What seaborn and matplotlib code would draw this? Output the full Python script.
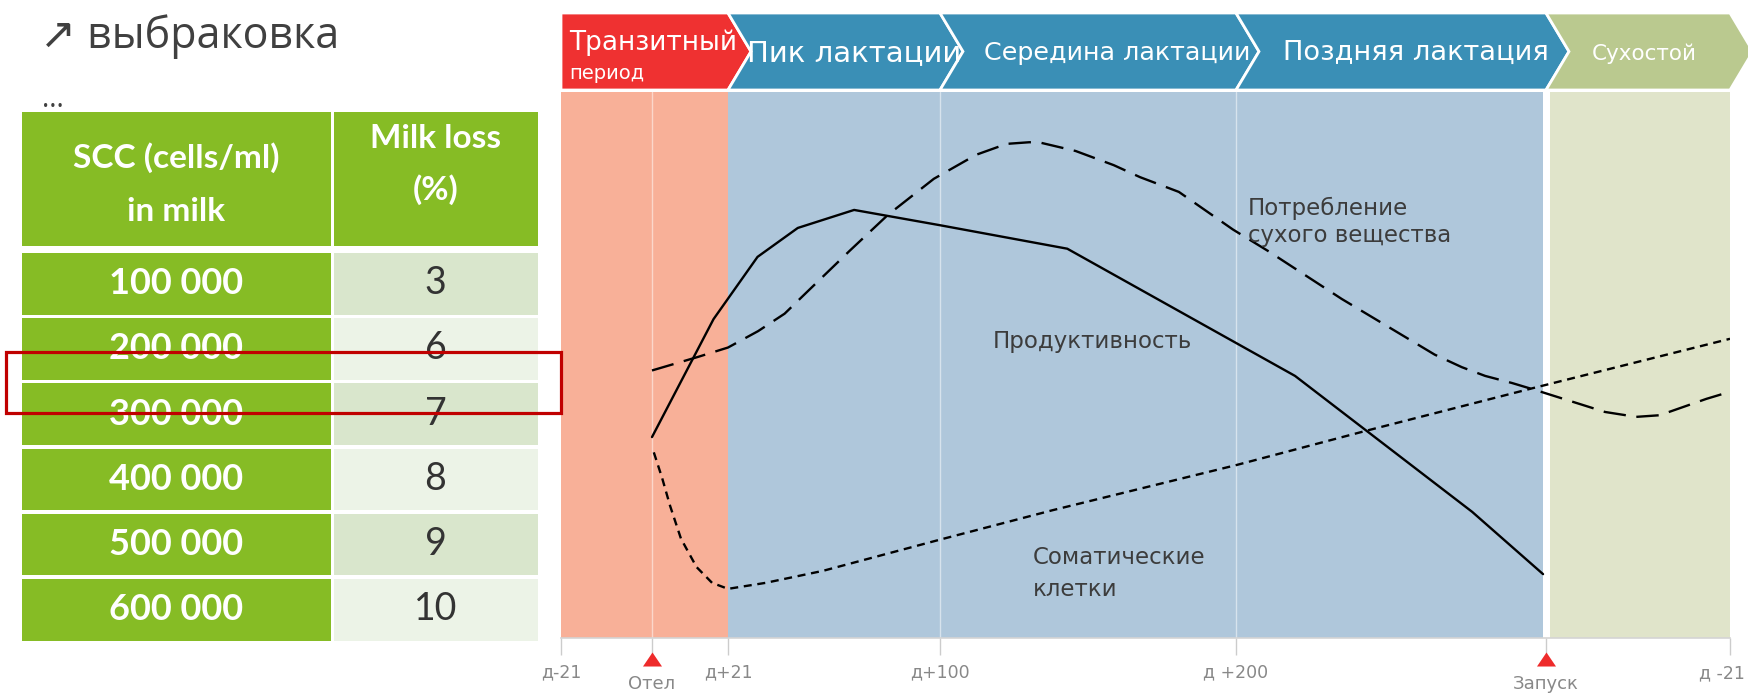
import numpy as np
import pandas as pd
import matplotlib
matplotlib.use("Agg")
import matplotlib.pyplot as plt
import matplotlib.transforms as mtransforms
from matplotlib.patches import Polygon, Rectangle
import seaborn as sns

W, H = 1748, 693

# ---------------- data ----------------
title_text = "↗ выбраковка"
scc_header = ["SCC (cells/ml)", "in milk"]
loss_header = ["Milk loss", "(%)"]
scc_values = ["100 000", "200 000", "300 000", "400 000", "500 000", "600 000"]
milk_loss = [3, 6, 7, 8, 9, 10]

phase_names = ["Транзитный", "Пик лактации", "Середина лактации", "Поздняя лактация", "Сухостой"]
phase_sub = ["период", "", "", "", ""]
phase_start = [-21, 21, 100, 200, 305]
phase_end = [21, 100, 200, 305, 344]

tick_days = [-21, 0, 21, 100, 200, 305, 344]
tick_labels = ["д-21", "", "д+21", "д+100", "д +200", "", "д -21"]
event_names = ["Отел", "Запуск"]
event_days = [0, 305]

prod_days = [0, 17, 32, 47, 68, 100, 143, 220, 280, 304]
prod_vals = [36.8, 58.4, 69.8, 75.1, 78.4, 75.6, 71.3, 48.0, 23.1, 11.7]

dmi_days = [0, 12.8, 21, 32.2, 42.1, 50.7, 66.3, 80.6, 97.7, 112.2, 122.5, 130.2,
            134.1, 145.8, 158.7, 167.6, 180.7, 199, 210.8, 235.8, 267.3, 276.5,
            284.4, 293.5, 301.5, 317.5, 324.1, 329.1, 339, 344]
dmi_vals = [49.0, 51.5, 53.2, 56.2, 59.4, 63.5, 70.9, 77.5, 84.1, 88.5, 90.5, 90.8,
            90.7, 89.2, 86.6, 84.4, 81.7, 74.8, 70.9, 62.1, 51.9, 49.6,
            48.0, 46.7, 45.4, 41.4, 40.5, 40.8, 43.8, 45.1]

scc_days = [0.5, 2.8, 5.0, 8.0, 12.3, 16.6, 21, 35, 56.4, 99.1, 138, 200.3, 243.7, 300.1, 344]
scc_vals = [34.0, 29.3, 24.2, 18.2, 13.0, 10.1, 9.0, 10.1, 12.3, 17.9, 23.4, 31.7, 37.9, 45.7, 54.8]

series_labels = ["Потребление", "сухого вещества", "Продуктивность", "Соматические", "клетки"]

# ---------------- non-uniform timeline scale ----------------
TL_DAYS = np.array([-21, 0, 21, 100, 200, 305, 344], float)
TL_POS = np.array([0, 91, 167, 379, 675, 985, 1169], float)
_s0 = (TL_POS[1] - TL_POS[0]) / (TL_DAYS[1] - TL_DAYS[0])
_s1 = (TL_POS[-1] - TL_POS[-2]) / (TL_DAYS[-1] - TL_DAYS[-2])


def fwd(x):
    x = np.asarray(x, float)
    y = np.interp(x, TL_DAYS, TL_POS)
    y = np.where(x < TL_DAYS[0], TL_POS[0] + (x - TL_DAYS[0]) * _s0, y)
    y = np.where(x > TL_DAYS[-1], TL_POS[-1] + (x - TL_DAYS[-1]) * _s1, y)
    return y


def inv(p):
    p = np.asarray(p, float)
    x = np.interp(p, TL_POS, TL_DAYS)
    x = np.where(p < TL_POS[0], TL_DAYS[0] + (p - TL_POS[0]) / _s0, x)
    x = np.where(p > TL_POS[-1], TL_DAYS[-1] + (p - TL_POS[-1]) / _s1, x)
    return x


# ---------------- style ----------------
sns.set_style("white")
plt.rcParams["font.family"] = ["DejaVu Sans"]

fig = plt.figure(figsize=(W / 100, H / 100), dpi=100)
fig.patch.set_facecolor("white")


def fax(x0, y0, x1, y1):
    return [x0 / W, 1 - y1 / H, (x1 - x0) / W, (y1 - y0) / H]


# background axes in pixel coordinates (table, title)
axb = fig.add_axes([0, 0, 1, 1], zorder=0)
axb.set_xlim(0, W)
axb.set_ylim(H, 0)
axb.axis("off")

axb.text(40, 48, title_text, fontsize=31, color="#404040",
         family=["Open Sans", "DejaVu Sans"], va="baseline", ha="left")
axb.text(42, 107, "...", fontsize=20, color="#404040",
         family=["Open Sans", "DejaVu Sans"], va="baseline", ha="left")

GREEN = "#86bc25"
c1x0, c1x1, c2x0, c2x1 = 22, 330.5, 333.5, 537.5
axb.add_patch(Rectangle((c1x0, 111.8), c1x1 - c1x0, 245.7 - 111.8, color=GREEN, lw=0))
axb.add_patch(Rectangle((c2x0, 111.8), c2x1 - c2x0, 245.7 - 111.8, color=GREEN, lw=0))
hdr = dict(fontsize=24, color="white", family="Lato", fontweight="bold",
           ha="center", va="baseline")
axb.text((c1x0 + c1x1) / 2, 168, scc_header[0], **hdr)
axb.text((c1x0 + c1x1) / 2, 221, scc_header[1], **hdr)
axb.text((c2x0 + c2x1) / 2, 148, loss_header[0], **hdr)
axb.text((c2x0 + c2x1) / 2, 200, loss_header[1], **hdr)

light = ["#d9e6cc", "#ecf3e7"]
for i, (sv, ml) in enumerate(zip(scc_values, milk_loss)):
    top = 253 + i * 65.2
    h = 61.5
    axb.add_patch(Rectangle((c1x0, top), c1x1 - c1x0, h, color=GREEN, lw=0))
    axb.add_patch(Rectangle((c2x0, top), c2x1 - c2x0, h, color=light[i % 2], lw=0))
    yc = top + h / 2
    axb.text((c1x0 + c1x1) / 2, yc + 10.5, sv, fontsize=26, color="white",
             family="Lato", fontweight="bold", ha="center", va="baseline")
    axb.text((c2x0 + c2x1) / 2, yc + 10.5, str(ml), fontsize=27, color="#333333",
             family="Lato", ha="center", va="baseline")

# ---------------- main chart ----------------
ax = fig.add_axes(fax(561, 92, 1730, 638), zorder=2)
ax.set_xscale("function", functions=(fwd, inv))
ax.set_xlim(-21, 344)
ax.set_ylim(0, 100)
ax.set_facecolor("none")

ax.axvspan(-21, 21, color="#f8b098", lw=0, zorder=0)
ax.axvspan(21, 304, color="#afc7db", lw=0, zorder=0)
ax.axvspan(305.8, 344, color="#e0e4ca", lw=0, zorder=0)
for d in [0, 100, 200]:
    ax.axvline(d, color="white", alpha=0.5, lw=1, zorder=1)

df = pd.concat([
    pd.DataFrame({"day": prod_days, "value": prod_vals, "series": "prod"}),
    pd.DataFrame({"day": dmi_days, "value": dmi_vals, "series": "dmi"}),
    pd.DataFrame({"day": scc_days, "value": scc_vals, "series": "scc"}),
], ignore_index=True)
sns.lineplot(data=df, x="day", y="value", style="series",
             dashes={"prod": "", "dmi": (9.5, 4.5), "scc": (3.4, 2.4)},
             color="black", lw=1.7, estimator=None, legend=False, ax=ax, zorder=3)

lab_kw = dict(fontsize=16.5, color="#3c3c3c", ha="left", va="baseline", zorder=4)
ax.text(204, 77.4, series_labels[0], **lab_kw)
ax.text(204, 72.5, series_labels[1], **lab_kw)
ax.text(117.7, 53.2, series_labels[2], **lab_kw)
ax.text(131.4, 13.6, series_labels[3], **lab_kw)
ax.text(131.4, 7.7, series_labels[4], **lab_kw)

for s in ["top", "left", "right"]:
    ax.spines[s].set_visible(False)
ax.spines["bottom"].set_color("#d4d4d4")
ax.spines["bottom"].set_linewidth(1.2)
ax.set_yticks([])
ax.set_xticks(tick_days)
# the last label is placed separately so that it stays inside the figure
ax.set_xticklabels(tick_labels[:-1] + [""])
ax.tick_params(axis="x", direction="out", length=12.5, width=1, color="#cccccc",
               pad=6, labelsize=12.5, labelcolor="#888888", bottom=True)
ax.xaxis.set_minor_locator(matplotlib.ticker.NullLocator())
ax.set_xlabel("")
ax.set_ylabel("")

blend = mtransforms.blended_transform_factory(ax.transData, ax.transAxes)
ax.annotate(tick_labels[-1], xy=(tick_days[-1], 0), xycoords=blend,
            xytext=(11, -25.5), textcoords="offset points", ha="right", va="center",
            fontsize=12.5, color="#888888", annotation_clip=False)

tri = [(-1, -0.737), (1, -0.737), (0, 0.737)]
ax.scatter(event_days, [-0.0385] * len(event_days), marker=tri, s=188,
           color="#ee2b2b", transform=blend, clip_on=False, zorder=6, lw=0)
for nm, d in zip(event_names, event_days):
    ax.text(d, -0.084, nm, transform=blend, ha="center", va="center",
            fontsize=13, color="#888888", clip_on=False)

# ---------------- header chevrons ----------------
axh = fig.add_axes(fax(561, 13, 1748, 90), zorder=3)
axh.set_xlim(0, 1187)
axh.set_ylim(0, 1)
axh.axis("off")
head_cols = ["#ef3131", "#3a8fb6", "#3a8fb6", "#3a8fb6", "#bac98f"]
depth = 23
for i, (s_d, e_d) in enumerate(zip(phase_start, phase_end)):
    s, e = float(fwd(s_d)), float(fwd(e_d))
    if i == 0:
        pts = [(s, 1), (e, 1), (e + depth, 0.5), (e, 0), (s, 0)]
    else:
        pts = [(s, 1), (e, 1), (e + depth, 0.5), (e, 0), (s, 0), (s + depth, 0.5)]
    axh.add_patch(Polygon(pts, closed=True, facecolor=head_cols[i], edgecolor="white",
                          lw=2, joinstyle="miter", clip_on=True))

hk = dict(color="white", va="center", zorder=5)
axh.text(8, 0.61, phase_names[0], fontsize=19, ha="left", **hk)
axh.text(8, 0.22, phase_sub[0], fontsize=14, ha="left", **hk)
axh.text(293, 0.48, phase_names[1], fontsize=21, ha="center", **hk)
axh.text(556, 0.48, phase_names[2], fontsize=18.3, ha="center", **hk)
axh.text(855, 0.48, phase_names[3], fontsize=19.6, ha="center", **hk)
axh.text(1083, 0.47, phase_names[4], fontsize=15.5, ha="center", **hk)

# ---------------- highlight box ----------------
axt = fig.add_axes([0, 0, 1, 1], zorder=10)
axt.set_xlim(0, W)
axt.set_ylim(H, 0)
axt.axis("off")
axt.patch.set_alpha(0)
axt.add_patch(Rectangle((6, 352), 555, 60.5, fill=False, edgecolor="#c00000", lw=2.3))

fig.savefig("out.png", dpi=100, facecolor="white")
